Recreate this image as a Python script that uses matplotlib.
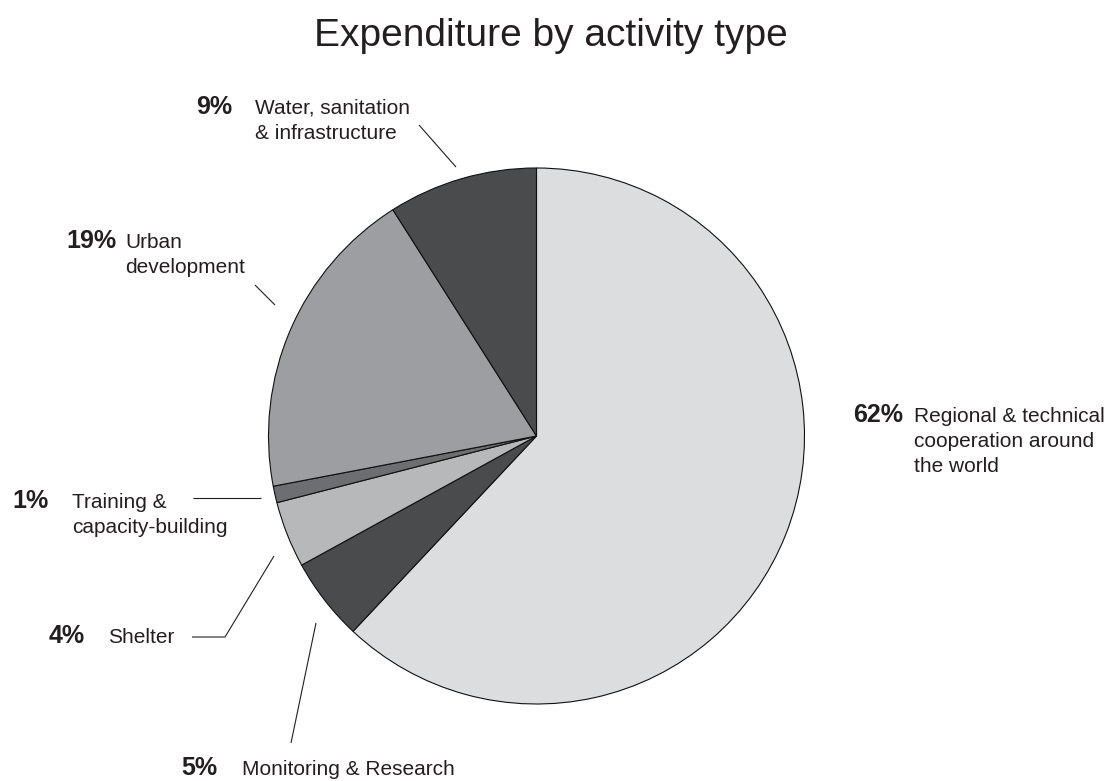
import matplotlib
matplotlib.use("Agg")
import matplotlib.pyplot as plt

# Expenditure shares (percent), clockwise from 12 o'clock
categories = [
    "Regional & technical\ncooperation around\nthe world",
    "Monitoring & Research",
    "Shelter",
    "Training &\ncapacity-building",
    "Urban\ndevelopment",
    "Water, sanitation\n& infrastructure",
]
shares = [62, 5, 4, 1, 19, 9]
colors = ["#dcdddf", "#4a4b4d", "#b7b8ba", "#6d6e71", "#9d9ea1", "#4a4b4d"]

W, H = 1112, 781
TEXT = "#231f20"
FONT = "Liberation Sans"

fig = plt.figure(figsize=(W / 100, H / 100), dpi=100)
ax = fig.add_axes([0, 0, 1, 1])
ax.set_xlim(0, W)
ax.set_ylim(0, H)
ax.set_aspect("equal")
ax.axis("off")


def py(y):
    """Convert a top-down pixel row to axis y."""
    return H - y


cx, cy, r = 536.5, 436, 268
ax.pie(shares, colors=colors, startangle=90, counterclock=False,
       center=(cx, py(cy)), radius=r, frame=True,
       wedgeprops=dict(edgecolor="#111111", linewidth=0.8))
ax.set_xlim(0, W)
ax.set_ylim(0, H)
ax.axis("off")

# Title
ax.text(551, py(46), "Expenditure by activity type", ha="center", va="baseline",
        fontsize=28, color=TEXT, family=FONT)

# Label placement: (right edge of percentage, left edge of text, first baseline)
label_pos = [
    (903, 914, 422),
    (217, 242, 775),
    (85, 108, 643),
    (49, 72, 508),
    (117, 125, 248),
    (232, 255, 114),
]
line_step = 25

for share, name, (xp, xt, yb) in zip(shares, categories, label_pos):
    ax.text(xp, py(yb), f"{share}%", ha="right", va="baseline",
            fontsize=18, fontweight="bold", color=TEXT, family=FONT)
    for i, line in enumerate(name.split("\n")):
        ax.text(xt, py(yb + i * line_step), line, ha="left", va="baseline",
                fontsize=15, color=TEXT, family=FONT)

# Leader lines
leaders = [
    [(419, 125), (456, 167)],
    [(255, 285), (275, 305)],
    [(193, 498), (261, 498)],
    [(192, 637), (225, 637), (274, 556)],
    [(316, 623), (291, 743)],
]
for pts in leaders:
    xs = [p[0] for p in pts]
    ys = [py(p[1]) for p in pts]
    ax.plot(xs, ys, color=TEXT, linewidth=0.8, solid_capstyle="butt")

fig.savefig("out.png", dpi=100, facecolor="white")
